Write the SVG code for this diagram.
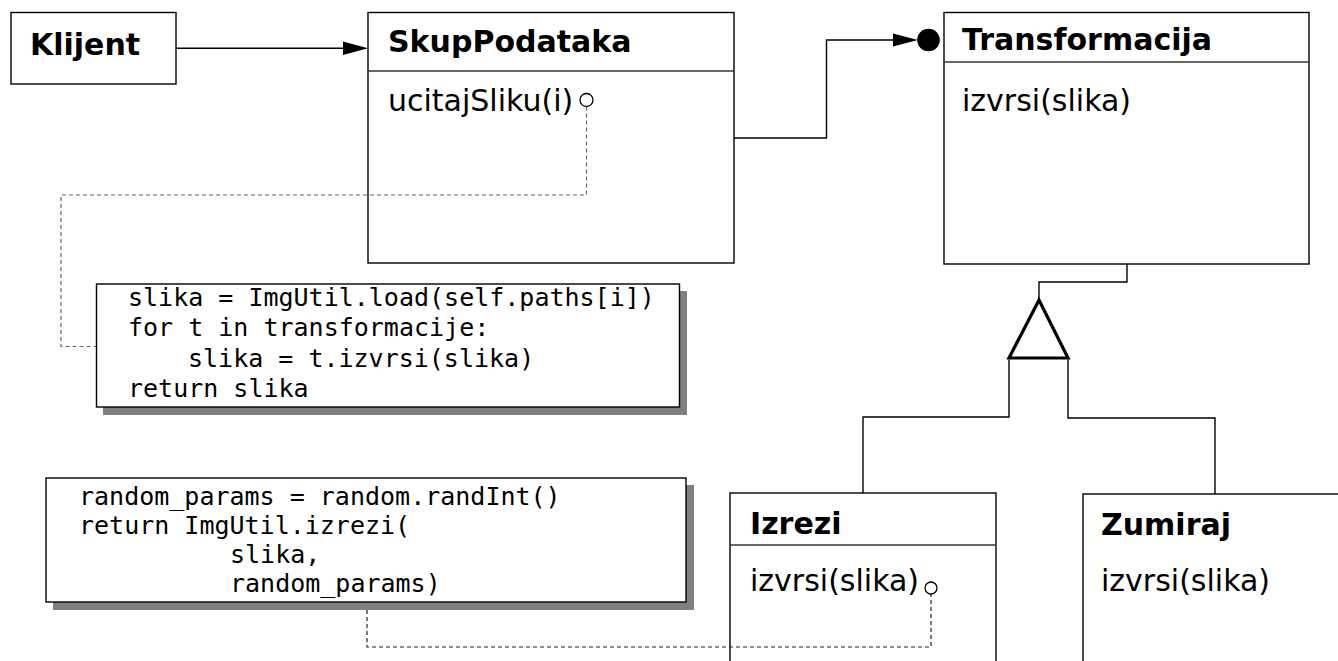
<svg xmlns="http://www.w3.org/2000/svg" width="1338" height="661" viewBox="0 0 1338 661">
<style>
.box{fill:#fff;stroke:#000;stroke-width:1.4}
.div{stroke:#333;stroke-width:1.3}
.title{font-family:"DejaVu Sans",sans-serif;font-weight:bold;font-size:30px;fill:#000}
.op{font-family:"DejaVu Sans",sans-serif;font-size:30px;fill:#000}
.code{font-family:"DejaVu Sans Mono",monospace;font-size:25px;fill:#000;white-space:pre}
.line{fill:none;stroke:#000;stroke-width:1.4}
.dash1{fill:none;stroke:#666;stroke-width:1.2;stroke-dasharray:4 3}
.dash2{fill:none;stroke:#222;stroke-width:1.2;stroke-dasharray:4 3}
.shadow{fill:#808080}
.pin{fill:#fff;stroke:#000;stroke-width:1.3}
</style>
<rect width="1338" height="661" fill="#fff"/>
<g id="klijent">
<rect class="box" x="11" y="12.5" width="165" height="71.5"/>
<text class="title" x="30" y="55">Klijent</text>
</g>
<g id="skupPodataka">
<rect class="box" x="368" y="12.5" width="366" height="250.5"/>
<line class="div" x1="368" y1="71" x2="734" y2="71"/>
<text class="title" x="388" y="52">SkupPodataka</text>
<text class="op" x="388" y="111">ucitajSliku(i)</text>
<circle class="pin" cx="586.5" cy="100" r="6.5"/>
</g>
<g id="transformacija">
<rect class="box" x="944" y="12.5" width="365" height="251.5"/>
<line class="div" x1="944" y1="62" x2="1309" y2="62"/>
<text class="title" x="962" y="50">Transformacija</text>
<text class="op" x="962" y="111">izvrsi(slika)</text>
</g>
<g id="izrezi">
<rect class="box" x="730" y="493" width="266" height="190"/>
<line class="div" x1="730" y1="545" x2="996" y2="545"/>
<text class="title" x="750" y="534">Izrezi</text>
<text class="op" x="750" y="591">izvrsi(slika)</text>
<circle class="pin" cx="931" cy="588" r="6"/>
</g>
<g id="zumiraj">
<rect class="box" x="1083" y="494" width="280" height="190"/>
<text class="title" x="1101" y="535">Zumiraj</text>
<text class="op" x="1101" y="591">izvrsi(slika)</text>
</g>
<g id="note1">
<rect class="shadow" x="103" y="291" width="584" height="124"/>
<rect class="box" x="96.5" y="284" width="583" height="123"/>
<text class="code" x="128" y="306">slika = ImgUtil.load(self.paths[i])</text>
<text class="code" x="128" y="336">for t in transformacije:</text>
<text class="code" x="188" y="367">slika = t.izvrsi(slika)</text>
<text class="code" x="128" y="397">return slika</text>
</g>
<g id="note2">
<rect class="shadow" x="53" y="485" width="641" height="125"/>
<rect class="box" x="46" y="478" width="640" height="124"/>
<text class="code" x="79" y="505">random_params = random.randInt()</text>
<text class="code" x="79" y="534">return ImgUtil.izrezi(</text>
<text class="code" x="230" y="563">slika,</text>
<text class="code" x="230" y="592">random_params)</text>
</g>
<g id="connectors">
<path class="line" d="M176,48.3 H345"/>
<polygon points="343,41.5 368,48.3 343,55" fill="#000"/>
<path class="line" d="M734,138 H826.5 V40 H895"/>
<polygon points="893,33.5 918,40 893,46.5" fill="#000"/>
<circle cx="928.5" cy="40" r="11.3" fill="#000"/>
<path class="line" d="M1127,264 V282 H1039 V300"/>
<polygon points="1039,300 1009,358 1068,358" fill="#fff" stroke="#000" stroke-width="3.2" stroke-linejoin="miter"/>
<path class="line" d="M1009,359.5 V417 H863 V493"/>
<path class="line" d="M1068,359.5 V418 H1215 V494"/>
<path class="dash1" d="M586.5,106.5 V195 H61 V346.5 H96"/>
<path class="dash2" d="M367,610 V647 H931 V594"/>
</g>
</svg>
